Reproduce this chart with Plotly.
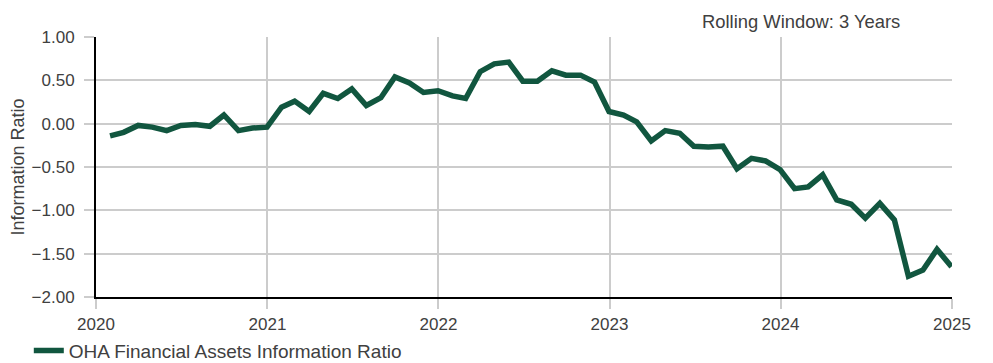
import pandas as pd
import plotly.graph_objects as go

dates = pd.date_range("2020-01-31", periods=60, freq="ME")
info_ratio = [
    -0.14, -0.10, -0.02, -0.04, -0.08, -0.02, -0.01, -0.03, 0.10, -0.08, -0.05, -0.04,
    0.19, 0.26, 0.14, 0.35, 0.29, 0.40, 0.21, 0.30, 0.54, 0.47, 0.36, 0.38,
    0.32, 0.29, 0.60, 0.69, 0.71, 0.49, 0.49, 0.61, 0.56, 0.56, 0.48, 0.14,
    0.10, 0.02, -0.20, -0.08, -0.11, -0.26, -0.27, -0.26, -0.52, -0.40, -0.43, -0.53,
    -0.75, -0.73, -0.59, -0.88, -0.93, -1.09, -0.92, -1.11, -1.76, -1.69, -1.45, -1.65,
]
series_name = "OHA Financial Assets Information Ratio"
y_ticks = [1.0, 0.5, 0.0, -0.5, -1.0, -1.5, -2.0]
x_ticks = ["2020-01-01", "2021-01-01", "2022-01-01", "2023-01-01", "2024-01-01", "2025-01-01"]
x_tick_labels = ["2020", "2021", "2022", "2023", "2024", "2025"]

FONT = "Liberation Sans, Arial, sans-serif"
TXT = "#404040"
GRID = "#cccccc"

fig = go.Figure()
fig.add_trace(go.Scatter(
    x=dates, y=info_ratio, mode="lines", name=series_name,
    line=dict(color="#11563f", width=5.5),
))

fig.update_layout(
    width=993, height=363,
    margin=dict(l=88, r=49, t=29, b=74, autoexpand=False),
    paper_bgcolor="white", plot_bgcolor="white",
    font=dict(family=FONT, size=17, color=TXT),
    showlegend=True,
    legend=dict(
        orientation="h", x=-0.0785, xanchor="left", y=-0.2065, yanchor="middle",
        font=dict(family=FONT, size=19, color=TXT), bgcolor="rgba(0,0,0,0)",
    ),
    annotations=[dict(
        text="Rolling Window: 3 Years", xref="paper", yref="paper",
        x=0.9416, y=1.108, xanchor="right", yanchor="top", showarrow=False,
        font=dict(family=FONT, size=18.4, color=TXT),
    )],
)

fig.update_xaxes(
    type="date", range=["2020-01-01", "2025-01-01"],
    tickmode="array", tickvals=x_ticks, ticktext=x_tick_labels,
    showgrid=True, gridcolor=GRID, gridwidth=1.5,
    showline=True, linecolor="black", linewidth=2,
    ticks="outside", ticklen=10, tickcolor=GRID, tickwidth=1.5,
    tickfont=dict(family=FONT, size=17, color=TXT),
    zeroline=False, automargin=False, ticklabelstandoff=1,
)
fig.update_yaxes(
    range=[-2.0, 1.0],
    tickmode="array", tickvals=y_ticks, tickformat=".2f",
    showgrid=True, gridcolor=GRID, gridwidth=1.5,
    showline=True, linecolor="black", linewidth=2,
    ticks="outside", ticklen=10, tickcolor=GRID, tickwidth=1.5,
    tickfont=dict(family=FONT, size=17, color=TXT),
    zeroline=False, automargin=False, ticklabelstandoff=6,
    title=dict(text="Information Ratio", standoff=2, font=dict(family=FONT, size=18, color=TXT)),
)

fig.write_html("out.html")
